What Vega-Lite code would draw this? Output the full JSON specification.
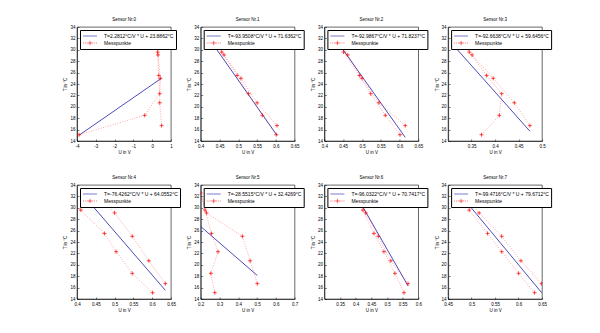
{
  "$schema": "https://vega.github.io/schema/vega-lite/v6.json",
  "padding": {"left": 62, "top": 16, "right": 5, "bottom": 5},
  "background": "white",
  "config": {
    "font": "Liberation Sans",
    "view": {"stroke": "black", "strokeWidth": 0.6},
    "axis": {"grid": false, "labelFontSize": 4.5, "titleFontSize": 4.5, "titleFontWeight": "normal", "labelColor": "black", "titleColor": "black", "domainColor": "black", "domainWidth": 0.6, "tickColor": "black", "tickWidth": 0.5, "tickSize": -2, "labelPadding": 4, "titlePadding": 2, "labelFlush": false, "labelOverlap": false},
    "title": {"fontSize": 4.5, "fontWeight": "normal", "color": "black", "offset": 3},
    "legend": {"orient": "top-left", "offset": 3, "padding": 2, "strokeColor": "black", "fillColor": "white", "labelFontSize": 5, "labelColor": "black", "symbolSize": 49, "symbolOffset": 4, "labelOffset": 10, "rowPadding": 0, "symbolStrokeWidth": 0.6}
  },
  "data": {"values": [
    {"s":0,"k":"m","o":1,"U":-3.89,"T":15.1,"g":"Messpunkte"},
    {"s":0,"k":"m","o":2,"U":-0.40,"T":18.5,"g":"Messpunkte"},
    {"s":0,"k":"m","o":3,"U":0.40,"T":22.3,"g":"Messpunkte"},
    {"s":0,"k":"m","o":4,"U":0.35,"T":25.5,"g":"Messpunkte"},
    {"s":0,"k":"m","o":5,"U":0.29,"T":29.6,"g":"Messpunkte"},
    {"s":0,"k":"m","o":6,"U":0.30,"T":32.6,"g":"Messpunkte"},
    {"s":0,"k":"m","o":7,"U":0.31,"T":29.1,"g":"Messpunkte"},
    {"s":0,"k":"m","o":8,"U":0.43,"T":25.0,"g":"Messpunkte"},
    {"s":0,"k":"m","o":9,"U":0.40,"T":20.7,"g":"Messpunkte"},
    {"s":0,"k":"m","o":10,"U":0.50,"T":16.7,"g":"Messpunkte"},
    {"s":0,"k":"f","o":1,"U":-3.89,"T":15.012,"g":"T=2.2812°C/V * U + 23.8862°C"},
    {"s":0,"k":"f","o":2,"U":0.50,"T":25.027,"g":"T=2.2812°C/V * U + 23.8862°C"},

    {"s":1,"k":"m","o":1,"U":0.601,"T":15.1,"g":"Messpunkte"},
    {"s":1,"k":"m","o":2,"U":0.564,"T":18.5,"g":"Messpunkte"},
    {"s":1,"k":"m","o":3,"U":0.527,"T":22.3,"g":"Messpunkte"},
    {"s":1,"k":"m","o":4,"U":0.497,"T":25.5,"g":"Messpunkte"},
    {"s":1,"k":"m","o":5,"U":0.456,"T":29.6,"g":"Messpunkte"},
    {"s":1,"k":"m","o":6,"U":0.43,"T":32.6,"g":"Messpunkte"},
    {"s":1,"k":"m","o":7,"U":0.462,"T":29.1,"g":"Messpunkte"},
    {"s":1,"k":"m","o":8,"U":0.507,"T":25.0,"g":"Messpunkte"},
    {"s":1,"k":"m","o":9,"U":0.55,"T":20.7,"g":"Messpunkte"},
    {"s":1,"k":"m","o":10,"U":0.603,"T":16.7,"g":"Messpunkte"},
    {"s":1,"k":"f","o":1,"U":0.43,"T":31.237,"g":"T=-93.9508°C/V * U + 71.6362°C"},
    {"s":1,"k":"f","o":2,"U":0.603,"T":14.984,"g":"T=-93.9508°C/V * U + 71.6362°C"},

    {"s":2,"k":"m","o":1,"U":0.601,"T":15.1,"g":"Messpunkte"},
    {"s":2,"k":"m","o":2,"U":0.562,"T":18.5,"g":"Messpunkte"},
    {"s":2,"k":"m","o":3,"U":0.523,"T":22.3,"g":"Messpunkte"},
    {"s":2,"k":"m","o":4,"U":0.493,"T":25.5,"g":"Messpunkte"},
    {"s":2,"k":"m","o":5,"U":0.451,"T":29.6,"g":"Messpunkte"},
    {"s":2,"k":"m","o":6,"U":0.43,"T":32.6,"g":"Messpunkte"},
    {"s":2,"k":"m","o":7,"U":0.462,"T":29.1,"g":"Messpunkte"},
    {"s":2,"k":"m","o":8,"U":0.50,"T":25.0,"g":"Messpunkte"},
    {"s":2,"k":"m","o":9,"U":0.545,"T":20.7,"g":"Messpunkte"},
    {"s":2,"k":"m","o":10,"U":0.615,"T":16.7,"g":"Messpunkte"},
    {"s":2,"k":"f","o":1,"U":0.43,"T":31.839,"g":"T=-92.9867°C/V * U + 71.8237°C"},
    {"s":2,"k":"f","o":2,"U":0.615,"T":14.637,"g":"T=-92.9867°C/V * U + 71.8237°C"},

    {"s":3,"k":"m","o":1,"U":0.371,"T":15.1,"g":"Messpunkte"},
    {"s":3,"k":"m","o":2,"U":0.409,"T":18.5,"g":"Messpunkte"},
    {"s":3,"k":"m","o":3,"U":0.414,"T":22.3,"g":"Messpunkte"},
    {"s":3,"k":"m","o":4,"U":0.382,"T":25.5,"g":"Messpunkte"},
    {"s":3,"k":"m","o":5,"U":0.345,"T":29.6,"g":"Messpunkte"},
    {"s":3,"k":"m","o":6,"U":0.316,"T":32.6,"g":"Messpunkte"},
    {"s":3,"k":"m","o":7,"U":0.351,"T":29.1,"g":"Messpunkte"},
    {"s":3,"k":"m","o":8,"U":0.396,"T":25.0,"g":"Messpunkte"},
    {"s":3,"k":"m","o":9,"U":0.441,"T":20.7,"g":"Messpunkte"},
    {"s":3,"k":"m","o":10,"U":0.474,"T":16.7,"g":"Messpunkte"},
    {"s":3,"k":"f","o":1,"U":0.316,"T":30.364,"g":"T=-92.6638°C/V * U + 59.6456°C"},
    {"s":3,"k":"f","o":2,"U":0.474,"T":15.723,"g":"T=-92.6638°C/V * U + 59.6456°C"},

    {"s":4,"k":"m","o":1,"U":0.601,"T":15.1,"g":"Messpunkte"},
    {"s":4,"k":"m","o":2,"U":0.547,"T":18.5,"g":"Messpunkte"},
    {"s":4,"k":"m","o":3,"U":0.504,"T":22.3,"g":"Messpunkte"},
    {"s":4,"k":"m","o":4,"U":0.473,"T":25.5,"g":"Messpunkte"},
    {"s":4,"k":"m","o":5,"U":0.41,"T":29.6,"g":"Messpunkte"},
    {"s":4,"k":"m","o":6,"U":0.45,"T":32.6,"g":"Messpunkte"},
    {"s":4,"k":"m","o":7,"U":0.50,"T":29.1,"g":"Messpunkte"},
    {"s":4,"k":"m","o":8,"U":0.547,"T":25.0,"g":"Messpunkte"},
    {"s":4,"k":"m","o":9,"U":0.591,"T":20.7,"g":"Messpunkte"},
    {"s":4,"k":"m","o":10,"U":0.635,"T":16.7,"g":"Messpunkte"},
    {"s":4,"k":"f","o":1,"U":0.41,"T":32.721,"g":"T=-76.4262°C/V * U + 64.0552°C"},
    {"s":4,"k":"f","o":2,"U":0.635,"T":15.525,"g":"T=-76.4262°C/V * U + 64.0552°C"},

    {"s":5,"k":"m","o":1,"U":0.275,"T":15.1,"g":"Messpunkte"},
    {"s":5,"k":"m","o":2,"U":0.254,"T":18.5,"g":"Messpunkte"},
    {"s":5,"k":"m","o":3,"U":0.292,"T":22.3,"g":"Messpunkte"},
    {"s":5,"k":"m","o":4,"U":0.257,"T":25.5,"g":"Messpunkte"},
    {"s":5,"k":"m","o":5,"U":0.223,"T":29.6,"g":"Messpunkte"},
    {"s":5,"k":"m","o":6,"U":0.20,"T":32.6,"g":"Messpunkte"},
    {"s":5,"k":"m","o":7,"U":0.231,"T":29.1,"g":"Messpunkte"},
    {"s":5,"k":"m","o":8,"U":0.422,"T":25.0,"g":"Messpunkte"},
    {"s":5,"k":"m","o":9,"U":0.463,"T":20.7,"g":"Messpunkte"},
    {"s":5,"k":"m","o":10,"U":0.501,"T":16.7,"g":"Messpunkte"},
    {"s":5,"k":"f","o":1,"U":0.20,"T":26.717,"g":"T=-28.5515°C/V * U + 32.4269°C"},
    {"s":5,"k":"f","o":2,"U":0.501,"T":18.123,"g":"T=-28.5515°C/V * U + 32.4269°C"},

    {"s":6,"k":"m","o":1,"U":0.554,"T":15.1,"g":"Messpunkte"},
    {"s":6,"k":"m","o":2,"U":0.525,"T":18.5,"g":"Messpunkte"},
    {"s":6,"k":"m","o":3,"U":0.49,"T":22.3,"g":"Messpunkte"},
    {"s":6,"k":"m","o":4,"U":0.458,"T":25.5,"g":"Messpunkte"},
    {"s":6,"k":"m","o":5,"U":0.423,"T":29.6,"g":"Messpunkte"},
    {"s":6,"k":"m","o":6,"U":0.40,"T":32.6,"g":"Messpunkte"},
    {"s":6,"k":"m","o":7,"U":0.432,"T":29.1,"g":"Messpunkte"},
    {"s":6,"k":"m","o":8,"U":0.472,"T":25.0,"g":"Messpunkte"},
    {"s":6,"k":"m","o":9,"U":0.512,"T":20.7,"g":"Messpunkte"},
    {"s":6,"k":"m","o":10,"U":0.567,"T":16.7,"g":"Messpunkte"},
    {"s":6,"k":"f","o":1,"U":0.40,"T":32.329,"g":"T=-96.0322°C/V * U + 70.7417°C"},
    {"s":6,"k":"f","o":2,"U":0.567,"T":16.291,"g":"T=-96.0322°C/V * U + 70.7417°C"},

    {"s":7,"k":"m","o":1,"U":0.634,"T":15.1,"g":"Messpunkte"},
    {"s":7,"k":"m","o":2,"U":0.60,"T":18.5,"g":"Messpunkte"},
    {"s":7,"k":"m","o":3,"U":0.564,"T":22.3,"g":"Messpunkte"},
    {"s":7,"k":"m","o":4,"U":0.534,"T":25.5,"g":"Messpunkte"},
    {"s":7,"k":"m","o":5,"U":0.495,"T":29.6,"g":"Messpunkte"},
    {"s":7,"k":"m","o":6,"U":0.48,"T":32.6,"g":"Messpunkte"},
    {"s":7,"k":"m","o":7,"U":0.516,"T":29.1,"g":"Messpunkte"},
    {"s":7,"k":"m","o":8,"U":0.564,"T":25.0,"g":"Messpunkte"},
    {"s":7,"k":"m","o":9,"U":0.605,"T":20.7,"g":"Messpunkte"},
    {"s":7,"k":"m","o":10,"U":0.649,"T":16.7,"g":"Messpunkte"},
    {"s":7,"k":"f","o":1,"U":0.48,"T":31.925,"g":"T=-99.4716°C/V * U + 79.6712°C"},
    {"s":7,"k":"f","o":2,"U":0.649,"T":15.114,"g":"T=-99.4716°C/V * U + 79.6712°C"}
  ]},
  "columns": 4,
  "spacing": {"row": 44, "column": 29.7},
  "bounds": "flush",
  "resolve": {"scale": {"x": "independent", "y": "independent", "color": "independent"}, "legend": {"color": "independent"}},
  "concat": [
    {"title": "Sensor Nr.0", "width": 94, "height": 114,
     "transform": [{"filter": "datum.s == 0"}],
     "encoding": {
       "x": {"field": "U", "type": "quantitative", "title": "U in V", "scale": {"domain": [-4, 1], "nice": false, "zero": false}, "axis": {"values": [-4, -3, -2, -1, 0, 1], "labelExpr": "'' + datum.value"}},
       "y": {"field": "T", "type": "quantitative", "title": "T in °C", "scale": {"domain": [14, 34], "nice": false, "zero": false}, "axis": {"values": [14, 16, 18, 20, 22, 24, 26, 28, 30, 32, 34]}},
       "color": {"field": "g", "type": "nominal", "sort": "descending", "scale": {"range": ["#1e1ea8", "#ff0000"]}, "legend": {"title": null, "encode": {"symbols": {"update": {"shape": {"signal": "datum.label === 'Messpunkte' ? 'M-2,0L-1.75,0M-1.45,0L-1.2,0M-0.9,0L-0.65,0M0.65,0L0.9,0M1.2,0L1.45,0M1.75,0L2,0M-0.6,0L0.6,0M0,-0.6L0,0.6' : 'M-2,0L2,0'"}, "strokeDash": {"value": []}, "fill": {"value": "transparent"}, "opacity": {"value": 1}}}}}}
     },
     "layer": [
       {"transform": [{"filter": "datum.k == 'f'"}], "mark": {"type": "line", "strokeWidth": 0.8, "clip": true}},
       {"transform": [{"filter": "datum.k == 'm'"}], "mark": {"type": "line", "strokeWidth": 0.5, "strokeDash": [1, 1.5], "opacity": 0.7, "clip": true}, "encoding": {"order": {"field": "o", "type": "quantitative"}}},
       {"transform": [{"filter": "datum.k == 'm'"}], "mark": {"type": "point", "shape": "M-1,0L1,0M0,-1L0,1", "size": 16, "filled": false, "strokeWidth": 0.7, "opacity": 1, "clip": true}}
     ]},
    {"title": "Sensor Nr.1", "width": 94, "height": 114,
     "transform": [{"filter": "datum.s == 1"}],
     "encoding": {
       "x": {"field": "U", "type": "quantitative", "title": "U in V", "scale": {"domain": [0.4, 0.65], "nice": false, "zero": false}, "axis": {"values": [0.4, 0.45, 0.5, 0.55, 0.6, 0.65], "labelExpr": "'' + datum.value"}},
       "y": {"field": "T", "type": "quantitative", "title": "T in °C", "scale": {"domain": [14, 34], "nice": false, "zero": false}, "axis": {"values": [14, 16, 18, 20, 22, 24, 26, 28, 30, 32, 34]}},
       "color": {"field": "g", "type": "nominal", "sort": "descending", "scale": {"range": ["#1e1ea8", "#ff0000"]}, "legend": {"title": null, "encode": {"symbols": {"update": {"shape": {"signal": "datum.label === 'Messpunkte' ? 'M-2,0L-1.75,0M-1.45,0L-1.2,0M-0.9,0L-0.65,0M0.65,0L0.9,0M1.2,0L1.45,0M1.75,0L2,0M-0.6,0L0.6,0M0,-0.6L0,0.6' : 'M-2,0L2,0'"}, "strokeDash": {"value": []}, "fill": {"value": "transparent"}, "opacity": {"value": 1}}}}}}
     },
     "layer": [
       {"transform": [{"filter": "datum.k == 'f'"}], "mark": {"type": "line", "strokeWidth": 0.8, "clip": true}},
       {"transform": [{"filter": "datum.k == 'm'"}], "mark": {"type": "line", "strokeWidth": 0.5, "strokeDash": [1, 1.5], "opacity": 0.7, "clip": true}, "encoding": {"order": {"field": "o", "type": "quantitative"}}},
       {"transform": [{"filter": "datum.k == 'm'"}], "mark": {"type": "point", "shape": "M-1,0L1,0M0,-1L0,1", "size": 16, "filled": false, "strokeWidth": 0.7, "opacity": 1, "clip": true}}
     ]},
    {"title": "Sensor Nr.2", "width": 94, "height": 114,
     "transform": [{"filter": "datum.s == 2"}],
     "encoding": {
       "x": {"field": "U", "type": "quantitative", "title": "U in V", "scale": {"domain": [0.4, 0.65], "nice": false, "zero": false}, "axis": {"values": [0.4, 0.45, 0.5, 0.55, 0.6, 0.65], "labelExpr": "'' + datum.value"}},
       "y": {"field": "T", "type": "quantitative", "title": "T in °C", "scale": {"domain": [14, 34], "nice": false, "zero": false}, "axis": {"values": [14, 16, 18, 20, 22, 24, 26, 28, 30, 32, 34]}},
       "color": {"field": "g", "type": "nominal", "sort": "descending", "scale": {"range": ["#1e1ea8", "#ff0000"]}, "legend": {"title": null, "encode": {"symbols": {"update": {"shape": {"signal": "datum.label === 'Messpunkte' ? 'M-2,0L-1.75,0M-1.45,0L-1.2,0M-0.9,0L-0.65,0M0.65,0L0.9,0M1.2,0L1.45,0M1.75,0L2,0M-0.6,0L0.6,0M0,-0.6L0,0.6' : 'M-2,0L2,0'"}, "strokeDash": {"value": []}, "fill": {"value": "transparent"}, "opacity": {"value": 1}}}}}}
     },
     "layer": [
       {"transform": [{"filter": "datum.k == 'f'"}], "mark": {"type": "line", "strokeWidth": 0.8, "clip": true}},
       {"transform": [{"filter": "datum.k == 'm'"}], "mark": {"type": "line", "strokeWidth": 0.5, "strokeDash": [1, 1.5], "opacity": 0.7, "clip": true}, "encoding": {"order": {"field": "o", "type": "quantitative"}}},
       {"transform": [{"filter": "datum.k == 'm'"}], "mark": {"type": "point", "shape": "M-1,0L1,0M0,-1L0,1", "size": 16, "filled": false, "strokeWidth": 0.7, "opacity": 1, "clip": true}}
     ]},
    {"title": "Sensor Nr.3", "width": 94, "height": 114,
     "transform": [{"filter": "datum.s == 3"}],
     "encoding": {
       "x": {"field": "U", "type": "quantitative", "title": "U in V", "scale": {"domain": [0.3, 0.5], "nice": false, "zero": false}, "axis": {"values": [0.35, 0.4, 0.45, 0.5], "labelExpr": "'' + datum.value"}},
       "y": {"field": "T", "type": "quantitative", "title": "T in °C", "scale": {"domain": [14, 34], "nice": false, "zero": false}, "axis": {"values": [14, 16, 18, 20, 22, 24, 26, 28, 30, 32, 34]}},
       "color": {"field": "g", "type": "nominal", "sort": "descending", "scale": {"range": ["#1e1ea8", "#ff0000"]}, "legend": {"title": null, "encode": {"symbols": {"update": {"shape": {"signal": "datum.label === 'Messpunkte' ? 'M-2,0L-1.75,0M-1.45,0L-1.2,0M-0.9,0L-0.65,0M0.65,0L0.9,0M1.2,0L1.45,0M1.75,0L2,0M-0.6,0L0.6,0M0,-0.6L0,0.6' : 'M-2,0L2,0'"}, "strokeDash": {"value": []}, "fill": {"value": "transparent"}, "opacity": {"value": 1}}}}}}
     },
     "layer": [
       {"transform": [{"filter": "datum.k == 'f'"}], "mark": {"type": "line", "strokeWidth": 0.8, "clip": true}},
       {"transform": [{"filter": "datum.k == 'm'"}], "mark": {"type": "line", "strokeWidth": 0.5, "strokeDash": [1, 1.5], "opacity": 0.7, "clip": true}, "encoding": {"order": {"field": "o", "type": "quantitative"}}},
       {"transform": [{"filter": "datum.k == 'm'"}], "mark": {"type": "point", "shape": "M-1,0L1,0M0,-1L0,1", "size": 16, "filled": false, "strokeWidth": 0.7, "opacity": 1, "clip": true}}
     ]},
    {"title": "Sensor Nr.4", "width": 94, "height": 114,
     "transform": [{"filter": "datum.s == 4"}],
     "encoding": {
       "x": {"field": "U", "type": "quantitative", "title": "U in V", "scale": {"domain": [0.4, 0.65], "nice": false, "zero": false}, "axis": {"values": [0.4, 0.45, 0.5, 0.55, 0.6, 0.65], "labelExpr": "'' + datum.value"}},
       "y": {"field": "T", "type": "quantitative", "title": "T in °C", "scale": {"domain": [14, 34], "nice": false, "zero": false}, "axis": {"values": [14, 16, 18, 20, 22, 24, 26, 28, 30, 32, 34]}},
       "color": {"field": "g", "type": "nominal", "sort": "descending", "scale": {"range": ["#1e1ea8", "#ff0000"]}, "legend": {"title": null, "encode": {"symbols": {"update": {"shape": {"signal": "datum.label === 'Messpunkte' ? 'M-2,0L-1.75,0M-1.45,0L-1.2,0M-0.9,0L-0.65,0M0.65,0L0.9,0M1.2,0L1.45,0M1.75,0L2,0M-0.6,0L0.6,0M0,-0.6L0,0.6' : 'M-2,0L2,0'"}, "strokeDash": {"value": []}, "fill": {"value": "transparent"}, "opacity": {"value": 1}}}}}}
     },
     "layer": [
       {"transform": [{"filter": "datum.k == 'f'"}], "mark": {"type": "line", "strokeWidth": 0.8, "clip": true}},
       {"transform": [{"filter": "datum.k == 'm'"}], "mark": {"type": "line", "strokeWidth": 0.5, "strokeDash": [1, 1.5], "opacity": 0.7, "clip": true}, "encoding": {"order": {"field": "o", "type": "quantitative"}}},
       {"transform": [{"filter": "datum.k == 'm'"}], "mark": {"type": "point", "shape": "M-1,0L1,0M0,-1L0,1", "size": 16, "filled": false, "strokeWidth": 0.7, "opacity": 1, "clip": true}}
     ]},
    {"title": "Sensor Nr.5", "width": 94, "height": 114,
     "transform": [{"filter": "datum.s == 5"}],
     "encoding": {
       "x": {"field": "U", "type": "quantitative", "title": "U in V", "scale": {"domain": [0.2, 0.7], "nice": false, "zero": false}, "axis": {"values": [0.2, 0.3, 0.4, 0.5, 0.6, 0.7], "labelExpr": "'' + datum.value"}},
       "y": {"field": "T", "type": "quantitative", "title": "T in °C", "scale": {"domain": [14, 34], "nice": false, "zero": false}, "axis": {"values": [14, 16, 18, 20, 22, 24, 26, 28, 30, 32, 34]}},
       "color": {"field": "g", "type": "nominal", "sort": "descending", "scale": {"range": ["#1e1ea8", "#ff0000"]}, "legend": {"title": null, "encode": {"symbols": {"update": {"shape": {"signal": "datum.label === 'Messpunkte' ? 'M-2,0L-1.75,0M-1.45,0L-1.2,0M-0.9,0L-0.65,0M0.65,0L0.9,0M1.2,0L1.45,0M1.75,0L2,0M-0.6,0L0.6,0M0,-0.6L0,0.6' : 'M-2,0L2,0'"}, "strokeDash": {"value": []}, "fill": {"value": "transparent"}, "opacity": {"value": 1}}}}}}
     },
     "layer": [
       {"transform": [{"filter": "datum.k == 'f'"}], "mark": {"type": "line", "strokeWidth": 0.8, "clip": true}},
       {"transform": [{"filter": "datum.k == 'm'"}], "mark": {"type": "line", "strokeWidth": 0.5, "strokeDash": [1, 1.5], "opacity": 0.7, "clip": true}, "encoding": {"order": {"field": "o", "type": "quantitative"}}},
       {"transform": [{"filter": "datum.k == 'm'"}], "mark": {"type": "point", "shape": "M-1,0L1,0M0,-1L0,1", "size": 16, "filled": false, "strokeWidth": 0.7, "opacity": 1, "clip": true}}
     ]},
    {"title": "Sensor Nr.6", "width": 94, "height": 114,
     "transform": [{"filter": "datum.s == 6"}],
     "encoding": {
       "x": {"field": "U", "type": "quantitative", "title": "U in V", "scale": {"domain": [0.3, 0.6], "nice": false, "zero": false}, "axis": {"values": [0.35, 0.4, 0.45, 0.5, 0.55, 0.6], "labelExpr": "'' + datum.value"}},
       "y": {"field": "T", "type": "quantitative", "title": "T in °C", "scale": {"domain": [14, 34], "nice": false, "zero": false}, "axis": {"values": [14, 16, 18, 20, 22, 24, 26, 28, 30, 32, 34]}},
       "color": {"field": "g", "type": "nominal", "sort": "descending", "scale": {"range": ["#1e1ea8", "#ff0000"]}, "legend": {"title": null, "encode": {"symbols": {"update": {"shape": {"signal": "datum.label === 'Messpunkte' ? 'M-2,0L-1.75,0M-1.45,0L-1.2,0M-0.9,0L-0.65,0M0.65,0L0.9,0M1.2,0L1.45,0M1.75,0L2,0M-0.6,0L0.6,0M0,-0.6L0,0.6' : 'M-2,0L2,0'"}, "strokeDash": {"value": []}, "fill": {"value": "transparent"}, "opacity": {"value": 1}}}}}}
     },
     "layer": [
       {"transform": [{"filter": "datum.k == 'f'"}], "mark": {"type": "line", "strokeWidth": 0.8, "clip": true}},
       {"transform": [{"filter": "datum.k == 'm'"}], "mark": {"type": "line", "strokeWidth": 0.5, "strokeDash": [1, 1.5], "opacity": 0.7, "clip": true}, "encoding": {"order": {"field": "o", "type": "quantitative"}}},
       {"transform": [{"filter": "datum.k == 'm'"}], "mark": {"type": "point", "shape": "M-1,0L1,0M0,-1L0,1", "size": 16, "filled": false, "strokeWidth": 0.7, "opacity": 1, "clip": true}}
     ]},
    {"title": "Sensor Nr.7", "width": 94, "height": 114,
     "transform": [{"filter": "datum.s == 7"}],
     "encoding": {
       "x": {"field": "U", "type": "quantitative", "title": "U in V", "scale": {"domain": [0.45, 0.65], "nice": false, "zero": false}, "axis": {"values": [0.45, 0.5, 0.55, 0.6, 0.65], "labelExpr": "'' + datum.value"}},
       "y": {"field": "T", "type": "quantitative", "title": "T in °C", "scale": {"domain": [14, 34], "nice": false, "zero": false}, "axis": {"values": [14, 16, 18, 20, 22, 24, 26, 28, 30, 32, 34]}},
       "color": {"field": "g", "type": "nominal", "sort": "descending", "scale": {"range": ["#1e1ea8", "#ff0000"]}, "legend": {"title": null, "encode": {"symbols": {"update": {"shape": {"signal": "datum.label === 'Messpunkte' ? 'M-2,0L-1.75,0M-1.45,0L-1.2,0M-0.9,0L-0.65,0M0.65,0L0.9,0M1.2,0L1.45,0M1.75,0L2,0M-0.6,0L0.6,0M0,-0.6L0,0.6' : 'M-2,0L2,0'"}, "strokeDash": {"value": []}, "fill": {"value": "transparent"}, "opacity": {"value": 1}}}}}}
     },
     "layer": [
       {"transform": [{"filter": "datum.k == 'f'"}], "mark": {"type": "line", "strokeWidth": 0.8, "clip": true}},
       {"transform": [{"filter": "datum.k == 'm'"}], "mark": {"type": "line", "strokeWidth": 0.5, "strokeDash": [1, 1.5], "opacity": 0.7, "clip": true}, "encoding": {"order": {"field": "o", "type": "quantitative"}}},
       {"transform": [{"filter": "datum.k == 'm'"}], "mark": {"type": "point", "shape": "M-1,0L1,0M0,-1L0,1", "size": 16, "filled": false, "strokeWidth": 0.7, "opacity": 1, "clip": true}}
     ]}
  ]
}
